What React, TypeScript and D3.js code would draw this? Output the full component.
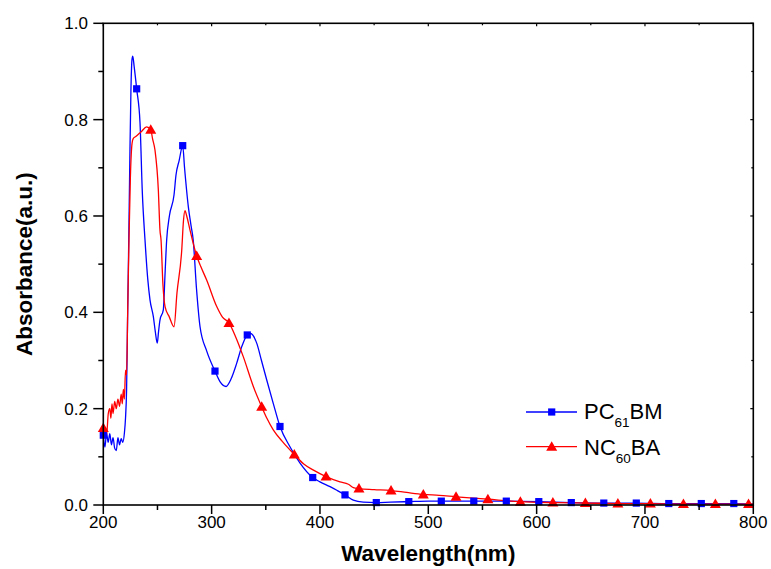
import React from "react";
import * as d3 from "d3";

// ---------- Data ----------
const pcbmWl = [200, 201.5, 203, 204.5, 206, 207.5, 209, 210.5, 212, 213.5, 215, 216.5, 218, 219.5, 220.5, 221.5, 222.5, 223.5, 224.5, 225.5, 226.5, 227.2, 228.5, 230.8, 233.9, 236, 238.5, 241, 243.1, 246.2, 248, 249.8, 251, 252.3, 255.4, 257, 258.5, 261, 265.3, 267.1, 270, 273.3, 275, 278.5, 281, 283, 286, 289.3, 295.4, 303.1, 308, 313.3, 318, 323.1, 328, 332.9, 336, 341.6, 346, 350.8, 357, 363.1, 372.3, 381.6, 393.3, 400, 409.3, 416, 423.1, 430.8, 440, 452, 465, 482, 500, 512, 542, 572, 602, 632, 662, 692, 722, 752, 782, 800];
const pcbmAbs = [0.145, 0.12, 0.15, 0.13, 0.148, 0.125, 0.14, 0.118, 0.113, 0.14, 0.125, 0.138, 0.13, 0.15, 0.18, 0.24, 0.4, 0.55, 0.72, 0.86, 0.925, 0.932, 0.91, 0.864, 0.793, 0.65, 0.55, 0.47, 0.426, 0.391, 0.36, 0.336, 0.36, 0.384, 0.405, 0.48, 0.55, 0.6, 0.644, 0.685, 0.715, 0.746, 0.7, 0.619, 0.58, 0.55, 0.45, 0.37, 0.32, 0.278, 0.255, 0.246, 0.262, 0.294, 0.33, 0.353, 0.356, 0.336, 0.3, 0.26, 0.21, 0.163, 0.121, 0.087, 0.057, 0.048, 0.038, 0.03, 0.021, 0.01, 0.006, 0.005, 0.006, 0.007, 0.008, 0.008, 0.008, 0.008, 0.007, 0.005, 0.004, 0.004, 0.003, 0.003, 0.003, 0.002];
const pcbmMarkerWl = [200, 230.8, 273.3, 303.1, 332.9, 363.1, 393.3, 423.1, 452, 482, 512, 542, 572, 602, 632, 662, 692, 722, 752, 782];
const pcbmMarkerAbs = [0.145, 0.864, 0.746, 0.278, 0.353, 0.163, 0.057, 0.021, 0.005, 0.007, 0.008, 0.008, 0.008, 0.007, 0.005, 0.004, 0.004, 0.003, 0.003, 0.003];

const ncbaWl = [200, 203, 204.6, 206, 207, 208, 209, 210.5, 212, 213.5, 215, 216.5, 217.5, 218.5, 219.5, 220.5, 221.5, 222.5, 223.7, 225, 226.5, 227.7, 230, 235, 240, 243.8, 245.5, 247.7, 250.8, 252.3, 253.3, 255, 257, 261, 265.3, 268, 272.4, 274, 275.4, 277, 280, 286.2, 290, 295.4, 304.7, 310, 316, 322, 329.2, 338.5, 346.2, 351, 356.9, 366, 376.3, 385, 393.6, 405.6, 418.5, 426.2, 430.8, 436, 450, 465.6, 480, 495.4, 510, 525.6, 555, 585, 615, 645, 675, 705, 735.5, 765, 795.6, 800];
const ncbaAbs = [0.16, 0.145, 0.19, 0.2, 0.18, 0.21, 0.19, 0.215, 0.2, 0.22, 0.205, 0.23, 0.21, 0.24, 0.22, 0.28, 0.27, 0.4, 0.55, 0.68, 0.75, 0.761, 0.765, 0.775, 0.785, 0.779, 0.76, 0.737, 0.654, 0.571, 0.55, 0.46, 0.412, 0.39, 0.37, 0.44, 0.529, 0.59, 0.611, 0.6, 0.571, 0.517, 0.495, 0.467, 0.412, 0.39, 0.378, 0.35, 0.308, 0.246, 0.204, 0.18, 0.156, 0.13, 0.105, 0.085, 0.073, 0.059, 0.048, 0.043, 0.036, 0.034, 0.032, 0.03, 0.026, 0.022, 0.02, 0.017, 0.012, 0.007, 0.005, 0.004, 0.003, 0.003, 0.002, 0.002, 0.002, 0.002];
const ncbaMarkerWl = [200, 243.8, 286.2, 316, 346.2, 376.3, 405.6, 436, 465.6, 495.4, 525.6, 555, 585, 615, 645, 675, 705, 735.5, 765, 795.6];
const ncbaMarkerAbs = [0.16, 0.779, 0.517, 0.378, 0.204, 0.105, 0.059, 0.034, 0.03, 0.022, 0.017, 0.012, 0.007, 0.005, 0.004, 0.003, 0.003, 0.002, 0.002, 0.002];

const xTicks = [200, 300, 400, 500, 600, 700, 800];
const xMinor = [250, 350, 450, 550, 650, 750];
const yTicks = [0, 0.2, 0.4, 0.6, 0.8, 1.0];
const yMinor = [0.1, 0.3, 0.5, 0.7, 0.9];

const BLUE = "#0000ff";
const RED = "#ff0000";
const FONT = "Arial, 'Liberation Sans', sans-serif";

export default function App() {
  const L = 103.3, R = 753.3, T = 23.3, B = 505;
  const x = d3.scaleLinear().domain([200, 800]).range([L, R]);
  const y = d3.scaleLinear().domain([0, 1]).range([B, T]);

  const mk = (wl: number[], ab: number[]) =>
    d3.line<number>().x((_, i) => x(wl[i])).y((_, i) => y(ab[i])).curve(d3.curveMonotoneX)(wl.map((_, i) => i)) || "";

  const bluePath = mk(pcbmWl, pcbmAbs);
  const redPath = mk(ncbaWl, ncbaAbs);

  const sq = (cx: number, cy: number, key: string) => (
    <rect key={key} x={cx - 3.6} y={cy - 3.6} width={7.2} height={7.2} fill={BLUE} />
  );
  const tri = (cx: number, cy: number, key: string) => (
    <path key={key} d={`M${cx},${cy - 5.5} L${cx + 5.5},${cy + 4} L${cx - 5.5},${cy + 4} Z`} fill={RED} />
  );

  return (
    <svg width={771} height={569} style={{ position: "absolute", left: 0, top: 0, background: "#fff" }} fontFamily={FONT}>
      <rect x={0} y={0} width={771} height={569} fill="#fff" />
      {/* curves */}
      <path d={bluePath} fill="none" stroke={BLUE} strokeWidth={1.3} />
      <path d={redPath} fill="none" stroke={RED} strokeWidth={1.3} />
      {pcbmMarkerWl.map((w, i) => sq(x(w), y(pcbmMarkerAbs[i]), "b" + i))}
      {ncbaMarkerWl.map((w, i) => tri(x(w), y(ncbaMarkerAbs[i]), "r" + i))}

      {/* frame */}
      <rect x={L} y={T} width={R - L} height={B - T} fill="none" stroke="#000" strokeWidth={1.6} />

      {/* x ticks */}
      {xTicks.map((t) => (
        <g key={"xt" + t}>
          <line x1={x(t)} x2={x(t)} y1={B} y2={B + 9} stroke="#000" strokeWidth={1.5} />
          <line x1={x(t)} x2={x(t)} y1={T} y2={T + 3} stroke="#000" strokeWidth={1.2} />
          <text x={x(t)} y={528} textAnchor="middle" fontSize={17} fill="#000">{t}</text>
        </g>
      ))}
      {xMinor.map((t) => (
        <g key={"xm" + t}>
          <line x1={x(t)} x2={x(t)} y1={B} y2={B + 5} stroke="#000" strokeWidth={1.5} />
          <line x1={x(t)} x2={x(t)} y1={T} y2={T + 2} stroke="#000" strokeWidth={1.2} />
        </g>
      ))}

      {/* y ticks */}
      {yTicks.map((t) => (
        <g key={"yt" + t}>
          <line x1={L - 10} x2={L} y1={y(t)} y2={y(t)} stroke="#000" strokeWidth={1.5} />
          <line x1={R - 3} x2={R} y1={y(t)} y2={y(t)} stroke="#000" strokeWidth={1.2} />
          <text x={88} y={y(t)} dy="0.36em" textAnchor="end" fontSize={17} fill="#000">{t.toFixed(1)}</text>
        </g>
      ))}
      {yMinor.map((t) => (
        <g key={"ym" + t}>
          <line x1={L - 5} x2={L} y1={y(t)} y2={y(t)} stroke="#000" strokeWidth={1.5} />
          <line x1={R - 2} x2={R} y1={y(t)} y2={y(t)} stroke="#000" strokeWidth={1.2} />
        </g>
      ))}

      {/* axis titles */}
      <text x={(L + R) / 2} y={561} textAnchor="middle" fontSize={22.5} fontWeight="bold" fill="#000">Wavelength(nm)</text>
      <text transform={`translate(32,${(T + B) / 2}) rotate(-90)`} textAnchor="middle" fontSize={22.5} fontWeight="bold" fill="#000">Absorbance(a.u.)</text>

      {/* legend */}
      <line x1={526} x2={577} y1={412} y2={412} stroke={BLUE} strokeWidth={1.3} />
      {sq(551.7, 412, "lb")}
      <text x={584} y={419.3} fontSize={22} fill="#000">PC<tspan fontSize={13.5} dy={8}>61</tspan><tspan dy={-8}>BM</tspan></text>
      <line x1={526} x2={577} y1={446.7} y2={446.7} stroke={RED} strokeWidth={1.3} />
      {tri(551.7, 446.7, "lr")}
      <text x={584} y={455} fontSize={22} fill="#000">NC<tspan fontSize={13.5} dy={8}>60</tspan><tspan dy={-8}>BA</tspan></text>
    </svg>
  );
}
